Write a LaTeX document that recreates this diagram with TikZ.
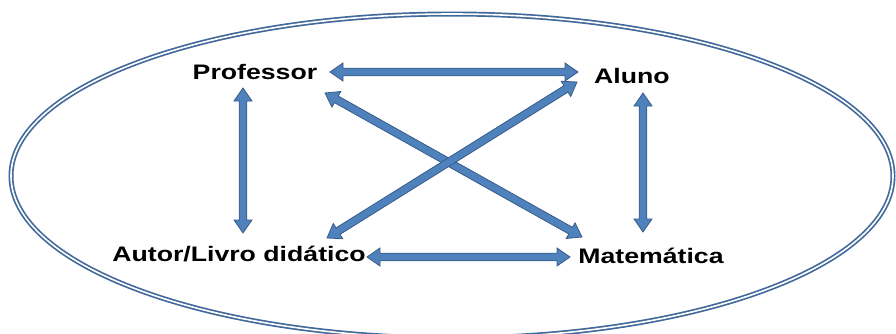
\documentclass[tikz,border=0pt]{standalone}
\usepackage{fontspec}
\usepackage{graphicx}
\setmainfont{Liberation Sans}
\usetikzlibrary{calc,shapes.geometric}
\definecolor{arrfill}{HTML}{4F81BD}
\definecolor{arrline}{HTML}{385D8A}
\definecolor{ellline}{HTML}{41699A}
\newcommand\hlen{13pt}
\newcommand\hwid{9pt}
\newcommand\swid{3.8pt}
\newcommand\blockarrow[2]{%
  \filldraw[barrow] (#1)
    -- ($(#1)!\hlen!(#2)!\hwid!90:(#2)$)
    -- ($(#1)!\hlen!(#2)!\swid!90:(#2)$)
    -- ($(#2)!\hlen!(#1)!\swid!-90:(#1)$)
    -- ($(#2)!\hlen!(#1)!\hwid!-90:(#1)$)
    -- (#2)
    -- ($(#2)!\hlen!(#1)!\hwid!90:(#1)$)
    -- ($(#2)!\hlen!(#1)!\swid!90:(#1)$)
    -- ($(#1)!\hlen!(#2)!\swid!-90:(#2)$)
    -- ($(#1)!\hlen!(#2)!\hwid!-90:(#2)$)
    -- cycle;}
\begin{document}
\begin{tikzpicture}[x=1pt,y=1pt,
  barrow/.style={fill=arrfill,draw=arrline,line width=0.8pt,line join=miter},
  lbl/.style={inner sep=0pt,font=\fontsize{21}{25}\selectfont\bfseries},
  oval/.style={draw=ellline,line width=1.7pt,double=white,double distance=1.6pt}]
\useasboundingbox (0,0) rectangle (896,333);
\begin{scope}
\clip (0,0) rectangle (896,333);
\node[oval,ellipse,minimum width=882pt,minimum height=324pt,inner sep=0pt] (ring) at (452,157) {};
\end{scope}
\node[lbl] (prof) at (255,261) {\scalebox{1.27}[1]{Professor}};
\node[lbl] (alu) at (632,257) {\scalebox{1.27}[1]{Aluno}};
\node[lbl] (aut) at (239,79) {\scalebox{1.27}[1]{Autor/Livro didático}};
\node[lbl] (mat) at (651,77) {\scalebox{1.27}[1]{Matemática}};
% endpoints
\coordinate (pa1) at (330,261);
\coordinate (pa2) at (578,261);
\coordinate (pv1) at (243,245);
\coordinate (pv2) at (243,100);
\coordinate (av1) at (643,240);
\coordinate (av2) at (643,101);
\coordinate (bh1) at (367,76);
\coordinate (bh2) at (570,76);
\coordinate (pd1) at (325,240);
\coordinate (pd2) at (582,96);
\coordinate (ad1) at (577,251);
\coordinate (ad2) at (327,95);
\blockarrow{pa1}{pa2}
\blockarrow{pv1}{pv2}
\blockarrow{av1}{av2}
\blockarrow{bh1}{bh2}
\blockarrow{pd1}{pd2}
\blockarrow{ad1}{ad2}
\end{tikzpicture}
\end{document}
